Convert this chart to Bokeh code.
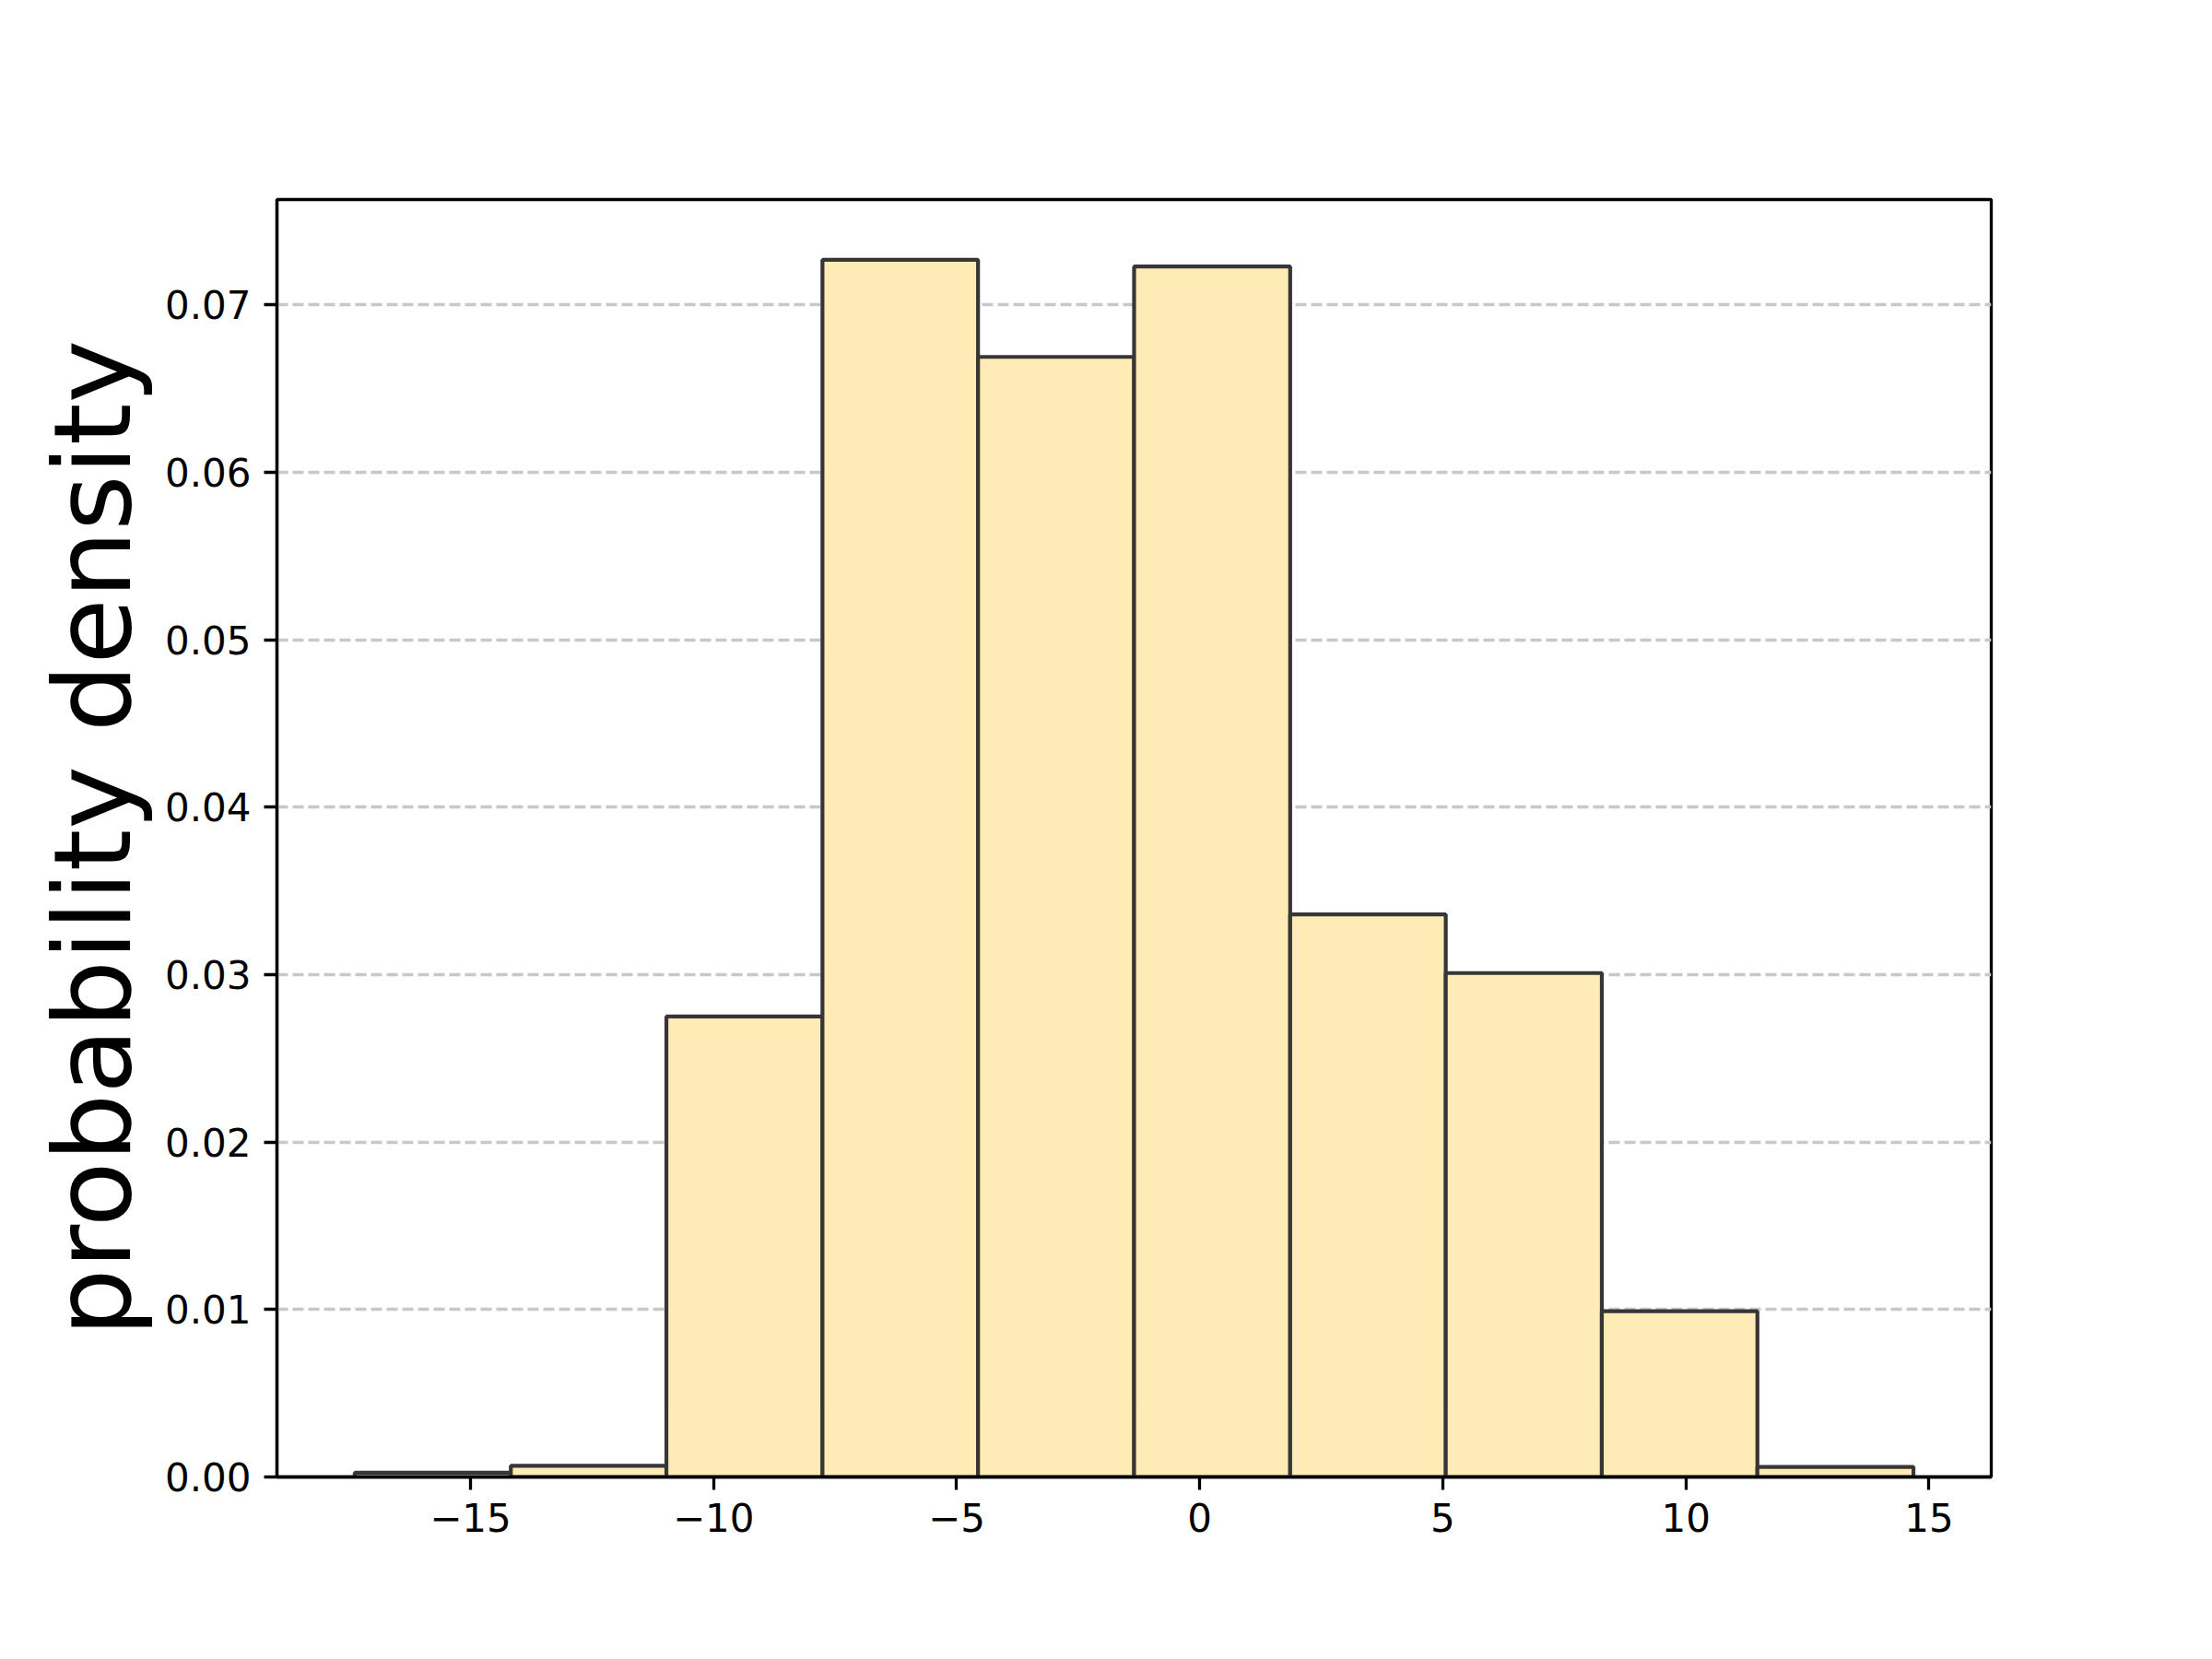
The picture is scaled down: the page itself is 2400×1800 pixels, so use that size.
from bokeh.plotting import figure
from bokeh.models import Range1d, FixedTicker, CustomJSTickFormatter, ColumnDataSource
from bokeh.embed import file_html
from bokeh.resources import INLINE

# Histogram data
bin_edges = [-17.38, -14.17, -10.97, -7.76, -4.56, -1.35, 1.86, 5.06, 8.27, 11.47, 14.68]
densities = [0.00025, 0.00067, 0.0275, 0.0727, 0.0669, 0.0723, 0.0336, 0.0301, 0.0099, 0.0006]
x_ticks = [-15, -10, -5, 0, 5, 10, 15]
y_ticks = [0.00, 0.01, 0.02, 0.03, 0.04, 0.05, 0.06, 0.07]
y_label = "probability density"

FONT = "DejaVu Sans"

src = ColumnDataSource(dict(
    left=bin_edges[:-1],
    right=bin_edges[1:],
    top=densities,
    bottom=[0.0] * len(densities),
))

p = figure(
    output_backend="svg",
    toolbar_location=None,
    frame_width=1860,
    frame_height=1386,
    min_border_left=300,
    min_border_top=216,
    min_border_right=224,
    min_border_bottom=182,
    x_range=Range1d(-18.98, 16.28),
    y_range=Range1d(0, 0.0763),
)
p.background_fill_color = "white"
p.border_fill_color = "white"
p.outline_line_color = "black"
p.outline_line_width = 3.3

p.quad(left="left", right="right", top="top", bottom="bottom", source=src,
       fill_color="#FFEBB5", line_color="#363636", line_width=4.2)

# grid
p.xgrid.visible = False
p.ygrid.grid_line_color = "#c8c8c8"
p.ygrid.grid_line_width = 3.3
p.ygrid.grid_line_dash = "12 5"
p.ygrid.ticker = FixedTicker(ticks=y_ticks)

# axes
for ax in (p.xaxis[0], p.yaxis[0]):
    ax.axis_line_color = "black"
    ax.axis_line_width = 3.3
    ax.major_tick_line_color = "black"
    ax.major_tick_line_width = 3.3
    ax.major_tick_out = 14
    ax.major_tick_in = 0
    ax.minor_tick_line_color = None
    ax.major_label_text_font = FONT
    ax.major_label_text_font_size = "42px"
    ax.major_label_text_color = "black"

p.xaxis.ticker = FixedTicker(ticks=x_ticks)
p.xaxis.formatter = CustomJSTickFormatter(code="""
return tick < 0 ? "\\u2212" + Math.abs(tick).toString() : tick.toString();
""")
p.xaxis.major_label_standoff = 14

p.yaxis.ticker = FixedTicker(ticks=y_ticks)
p.yaxis.formatter = CustomJSTickFormatter(code="return tick.toFixed(2);")
p.yaxis.major_label_standoff = 14
p.yaxis.axis_label = y_label
p.yaxis.axis_label_text_font = FONT
p.yaxis.axis_label_text_font_size = "116px"
p.yaxis.axis_label_text_font_style = "normal"
p.yaxis.axis_label_text_color = "black"
p.yaxis.axis_label_standoff = 8

open("out.html", "w").write(file_html(p, INLINE))
